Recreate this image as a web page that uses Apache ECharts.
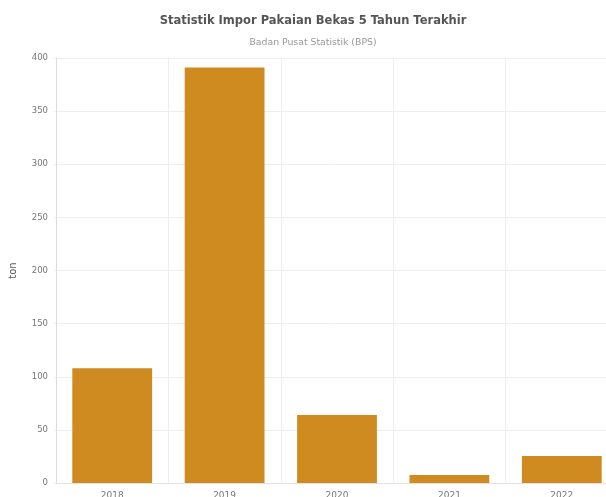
<!DOCTYPE html>
<html>
<head>
<meta charset="utf-8">
<script src="https://cdn.jsdelivr.net/npm/echarts@6/dist/echarts.min.js"></script>
<style>html,body{margin:0;padding:0;background:#fff}#c{width:606px;height:497px}</style>
</head>
<body>
<div id="c"></div>
<script>
var categories = ['2018', '2019', '2020', '2021', '2022'];
var values = [108, 391, 64, 7.5, 25.5];
var yTicks = { min: 0, max: 400, interval: 50 };

var chart = echarts.init(document.getElementById('c'), null, { renderer: 'canvas' });
chart.setOption({
  animation: false,
  title: {
    text: 'Statistik Impor Pakaian Bekas 5 Tahun Terakhir',
    subtext: 'Badan Pusat Statistik (BPS)',
    left: 308,
    top: 10,
    textAlign: 'center',
    itemGap: 11,
    textStyle: { fontFamily: 'DejaVu Sans', fontSize: 11.5, fontWeight: 'bold', color: '#555' },
    subtextStyle: { fontFamily: 'DejaVu Sans', fontSize: 9.3, color: '#999' }
  },
  grid: { left: 56, top: 58, bottom: 14, right: -12, containLabel: false, outerBoundsMode: 'none' },
  xAxis: {
    type: 'category',
    data: categories,
    axisLine: { show: true, lineStyle: { color: '#e2e2e2' } },
    axisTick: { show: false },
    splitLine: { show: true, lineStyle: { color: '#eeeeee' } },
    axisLabel: { fontFamily: 'DejaVu Sans', fontSize: 9, color: '#777', margin: 8, interval: 0 }
  },
  yAxis: {
    type: 'value',
    min: yTicks.min, max: yTicks.max, interval: yTicks.interval,
    name: 'ton',
    nameLocation: 'middle',
    nameGap: 38,
    nameTextStyle: { fontFamily: 'DejaVu Sans', fontSize: 10, color: '#555' },
    axisLine: { show: true, lineStyle: { color: '#dddddd' } },
    axisTick: { show: true, length: 3, lineStyle: { color: '#eeeeee' } },
    splitLine: { show: true, lineStyle: { color: '#eeeeee' } },
    axisLabel: { fontFamily: 'DejaVu Sans', fontSize: 8.5, color: '#777', margin: 8 }
  },
  series: [{
    type: 'bar',
    data: values,
    barCategoryGap: '29%',
    itemStyle: { color: '#cf8b1f' }
  }]
});
</script>
</body>
</html>
